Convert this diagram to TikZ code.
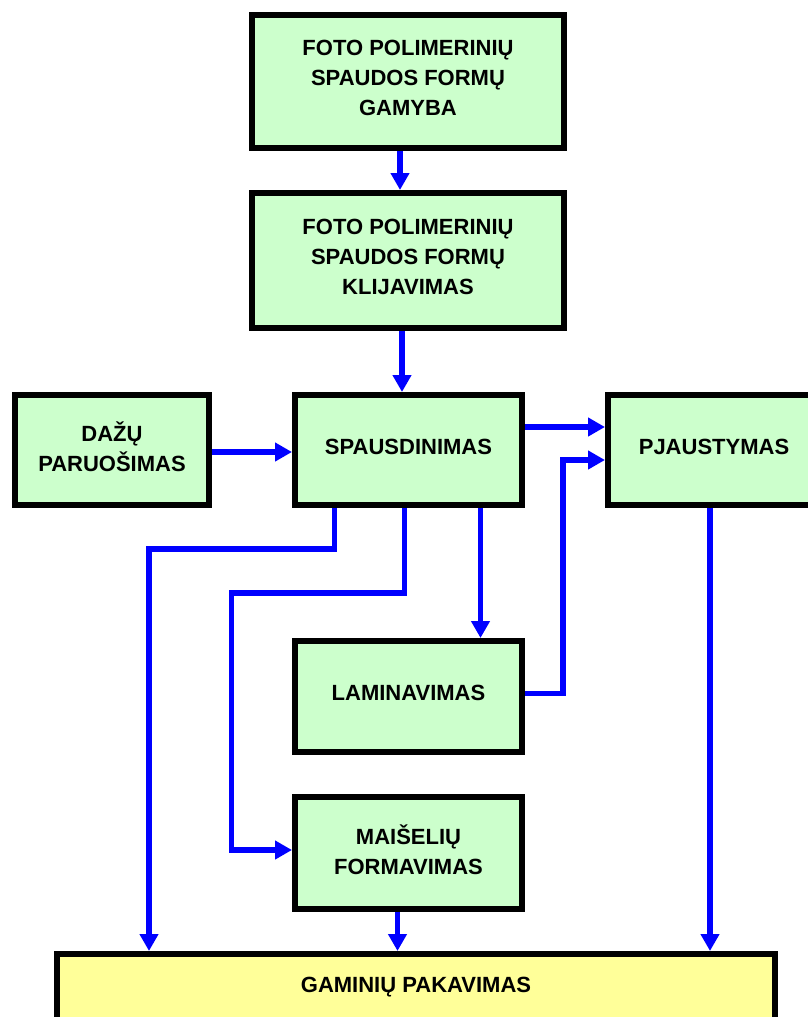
\documentclass[tikz,border=0pt]{standalone}
\usepackage{fontspec}
\setmainfont{Liberation Sans}
\usetikzlibrary{arrows.meta}
\definecolor{zalia}{HTML}{CCFFCC}
\definecolor{geltona}{HTML}{FFFF99}
\definecolor{melyna}{HTML}{0000FF}
\begin{document}
\begin{tikzpicture}[x=1pt,y=-1pt,
        blokas/.style={draw,line width=6pt,fill=zalia,align=center,inner sep=0pt,
            font=\fontsize{22}{30}\selectfont\bfseries,
            execute at end node={\rule[-7pt]{0pt}{7pt}}},
        rodykle/.style={draw=melyna,line width=5.5pt,-{Triangle[width=18pt,length=17pt]}}]
    \useasboundingbox (0,0) rectangle (807,1017);
    \node [blokas,minimum width=312pt,minimum height=133pt] (gamyba) at (408,81.5)
        {FOTO POLIMERINIŲ\\SPAUDOS FORMŲ\\GAMYBA};
    \node [blokas,minimum width=312pt,minimum height=135pt] (klijavimas) at (408,260.5)
        {FOTO POLIMERINIŲ\\SPAUDOS FORMŲ\\KLIJAVIMAS};
    \node [blokas,minimum width=194pt,minimum height=110pt] (dazai) at (112,450)
        {DAŽŲ\\PARUOŠIMAS};
    \node [blokas,minimum width=227pt,minimum height=110pt] (spausd) at (408.5,450)
        {SPAUSDINIMAS};
    % desinysis krastas uz paveikslo ribos
    \node [blokas,minimum width=212pt,minimum height=110pt] (pjaust) at (714,450)
        {PJAUSTYMAS};
    \node [blokas,minimum width=227pt,minimum height=111pt] (lamin) at (408.5,696.5)
        {LAMINAVIMAS};
    \node [blokas,minimum width=227pt,minimum height=112pt] (maiseliai) at (408.5,853)
        {MAIŠELIŲ\\FORMAVIMAS};
    % apatinis blokas nukirstas paveikslo krastu
    \node [blokas,fill=geltona,minimum width=718pt,text height=38pt,text depth=60pt,
        anchor=base] (pakav) at (416,992) {GAMINIŲ PAKAVIMAS};

    \draw [rodykle] ([xshift=-8pt]gamyba.south) -- ([xshift=-8pt]klijavimas.north);
    \draw [rodykle] ([xshift=-6pt]klijavimas.south) -- ([xshift=-6pt]klijavimas.south |- spausd.north);
    \draw [rodykle] ([yshift=-2pt]dazai.east) -- ([yshift=-2pt]spausd.west);
    \draw [rodykle] ([yshift=23pt]spausd.east) -- ([yshift=23pt]pjaust.west);
    \draw [rodykle] ([yshift=3pt]lamin.east) -- ++(38,0) |- ([yshift=-10pt]pjaust.west);
    \draw [rodykle] ([xshift=72pt]spausd.south) -- ([xshift=72pt]lamin.north);
    \draw [rodykle] ([xshift=-74pt]spausd.south) -- ++(0,41) -| ([xshift=-267pt]pakav.north);
    \draw [rodykle] ([xshift=-4pt]spausd.south) |- ++(-173,85) |- ([yshift=3pt]maiseliai.west);
    \draw [rodykle] ([xshift=-11pt]maiseliai.south) -- ([xshift=-11pt]maiseliai.south |- pakav.north);
    \draw [rodykle] ([xshift=-4pt]pjaust.south) -- ([xshift=-4pt]pjaust.south |- pakav.north);
\end{tikzpicture}
\end{document}
